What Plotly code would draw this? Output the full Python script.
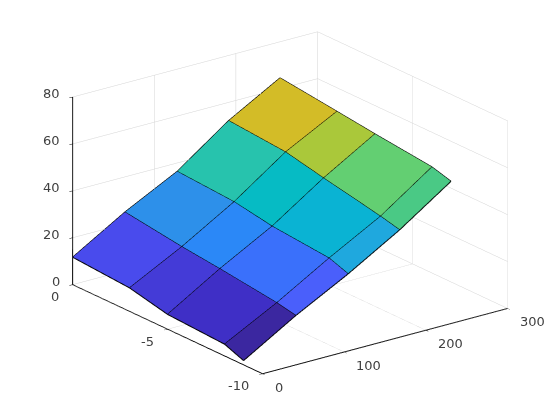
import plotly.graph_objects as go

# --- data ---
x_nodes = [0, 64, 128, 191, 254]
y_nodes = [0, -3, -5, -8, -9]
z_rows = [
    [11.7, 25.0, 36.4, 52.2, 64.6],
    [10.0, 21.6, 34.8, 50.2, 61.7],
    [6.3, 19.8, 32.0, 46.7, 59.7],
    [5.0, 16.7, 29.8, 41.8, 57.0],
    [1.8, 15.1, 26.9, 39.8, 54.7],
]
cell_values = [
    [0.10, 0.28, 0.55, 0.87],
    [0.07, 0.24, 0.47, 0.80],
    [0.05, 0.17, 0.42, 0.67],
    [0.02, 0.13, 0.36, 0.63],
]
x_ticks = [0, 100, 200, 300]
y_ticks = [0, -5, -10]
z_ticks = [0, 20, 40, 60, 80]

# --- style ---
COLORSCALE = [
    [0.00, "#3e2aa8"], [0.02, "#3b279f"], [0.05, "#4030c9"], [0.07, "#453dd9"],
    [0.10, "#4a4df0"], [0.13, "#4a60fb"], [0.17, "#3a70fb"], [0.24, "#2b88f7"],
    [0.28, "#2d90ea"], [0.36, "#1fa8de"], [0.42, "#0ab3d3"], [0.47, "#06bbc4"],
    [0.55, "#26c3ae"], [0.63, "#4ac985"], [0.67, "#63cf72"], [0.80, "#a9c83a"],
    [0.87, "#d3bc27"], [1.00, "#f9fb15"],
]
GRID = "#d4d4d4"
AXIS = "#000000"
TEXT = "#404040"
FONT = dict(family="DejaVu Sans", size=13, color=TEXT)
EYE = (-0.563, -0.747, 0.3535)
DIST = 2.0
CENTER = (-0.0081, 0.0058, -0.0775)
ASPECT = dict(x=1.461, y=1.503, z=0.955)

nx, ny = len(x_nodes), len(y_nodes)
vx, vy, vz = [], [], []
for r in range(ny):
    for c in range(nx):
        vx.append(x_nodes[c]); vy.append(y_nodes[r]); vz.append(z_rows[r][c])

ii, jj, kk, ints = [], [], [], []
for r in range(ny - 1):
    for c in range(nx - 1):
        a = r * nx + c
        b, d, e = a + 1, a + nx, a + nx + 1
        ii += [a, a]; jj += [b, e]; kk += [e, d]
        ints += [cell_values[r][c]] * 2

lx, ly, lz = [], [], []
for r in range(ny):
    lx += x_nodes + [None]; ly += [y_nodes[r]] * nx + [None]; lz += z_rows[r] + [None]
for c in range(nx):
    lx += [x_nodes[c]] * ny + [None]; ly += y_nodes + [None]
    lz += [z_rows[r][c] for r in range(ny)] + [None]

fig = go.Figure()
fig.add_trace(go.Mesh3d(
    x=vx, y=vy, z=vz, i=ii, j=jj, k=kk,
    intensity=ints, intensitymode="cell", colorscale=COLORSCALE, cmin=0, cmax=1,
    showscale=False, flatshading=True, hoverinfo="skip",
    lighting=dict(ambient=1, diffuse=0, specular=0, fresnel=0, roughness=1),
))
fig.add_trace(go.Scatter3d(x=lx, y=ly, z=lz, mode="lines",
                           line=dict(color="black", width=2), hoverinfo="skip"))

def axis(rng, ticks):
    return dict(range=rng, tickvals=ticks, title="", showticklabels=False,
                showbackground=False, showgrid=True, gridcolor=GRID, gridwidth=1,
                showline=True, linecolor=AXIS, linewidth=2, zeroline=False,
                ticks="inside", ticklen=4, tickcolor=AXIS,
                showspikes=False, autorange=False)

def label(x, y, z, text, anchor, dx, dy):
    return dict(x=x, y=y, z=z, text=text, showarrow=False, font=FONT,
                xanchor=anchor, yanchor="middle", xshift=dx, yshift=dy)

labels = []
labels += [label(v, -10, 0, str(v), "left", 10, -13.5) for v in x_ticks]
labels += [label(0, v, 0, str(v), "right", -12, -12) for v in y_ticks]
labels += [label(0, 0, v, str(v), "right", -11, 3.5) for v in z_ticks]

fig.update_layout(
    width=560, height=420, showlegend=False, paper_bgcolor="white",
    margin=dict(l=0, r=0, t=0, b=0),
    scene=dict(
        domain=dict(x=[0, 1], y=[0, 1]),
        xaxis=axis([0, 300], x_ticks),
        yaxis=axis([-10, 0], y_ticks),
        zaxis=axis([0, 80], z_ticks),
        aspectmode="manual",
        aspectratio=ASPECT,
        annotations=labels,
        camera=dict(projection=dict(type="orthographic"),
                    eye=dict(x=EYE[0] * DIST + CENTER[0], y=EYE[1] * DIST + CENTER[1],
                             z=EYE[2] * DIST + CENTER[2]),
                    center=dict(x=CENTER[0], y=CENTER[1], z=CENTER[2]),
                    up=dict(x=0, y=0, z=1)),
    ),
)
fig.write_html("out.html")
